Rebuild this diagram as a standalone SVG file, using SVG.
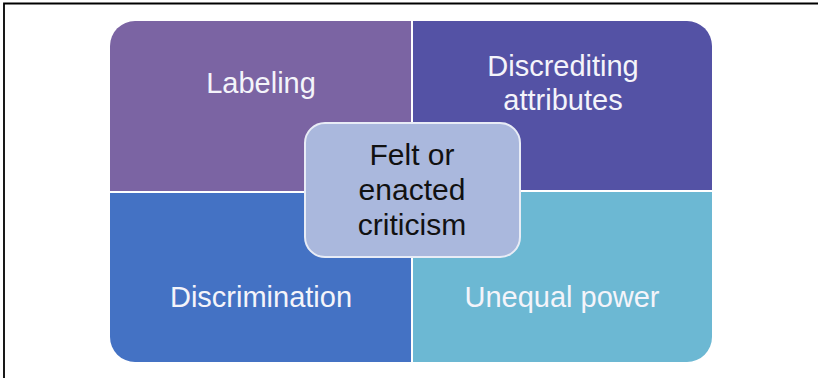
<svg xmlns="http://www.w3.org/2000/svg" width="818" height="378" viewBox="0 0 818 378">
<style>
.lbl{font-family:"Liberation Sans",Arial,sans-serif;font-size:29px;fill:#f4f4fa;text-anchor:middle}
.ctr{font-family:"Liberation Sans",Arial,sans-serif;font-size:30px;fill:#111;text-anchor:middle}
</style>
<rect x="0" y="0" width="818" height="378" fill="#fff"/>
<path d="M4,378 V3.5 H818" fill="none" stroke="#000" stroke-width="1.8"/>
<g id="labeling">
<path d="M135,21 H411 V191 H110 V46 A25,25 0 0 1 135,21 Z" fill="#7b64a3"/>
<text class="lbl" x="261" y="93">Labeling</text>
</g>
<g id="discrediting">
<path d="M413,21 H687 A25,25 0 0 1 712,46 V190 H413 Z" fill="#5452a5"/>
<text class="lbl" x="563" y="76">Discrediting</text>
<text class="lbl" x="563" y="110">attributes</text>
</g>
<g id="discrimination">
<path d="M110,193 H411 V362 H135 A25,25 0 0 1 110,337 Z" fill="#4472c4"/>
<text class="lbl" x="261" y="307">Discrimination</text>
</g>
<g id="unequal">
<path d="M413,192 H712 V337 A25,25 0 0 1 687,362 H413 Z" fill="#6cb8d3"/>
<text class="lbl" x="562" y="307">Unequal power</text>
</g>
<g id="center">
<rect x="305" y="123" width="215" height="134" rx="20" ry="20" fill="#aab8dd" stroke="#e8ecf6" stroke-width="2"/>
<text class="ctr" x="412" y="165">Felt or</text>
<text class="ctr" x="412" y="200">enacted</text>
<text class="ctr" x="412" y="235">criticism</text>
</g>
<g id="connectors"/>
</svg>
